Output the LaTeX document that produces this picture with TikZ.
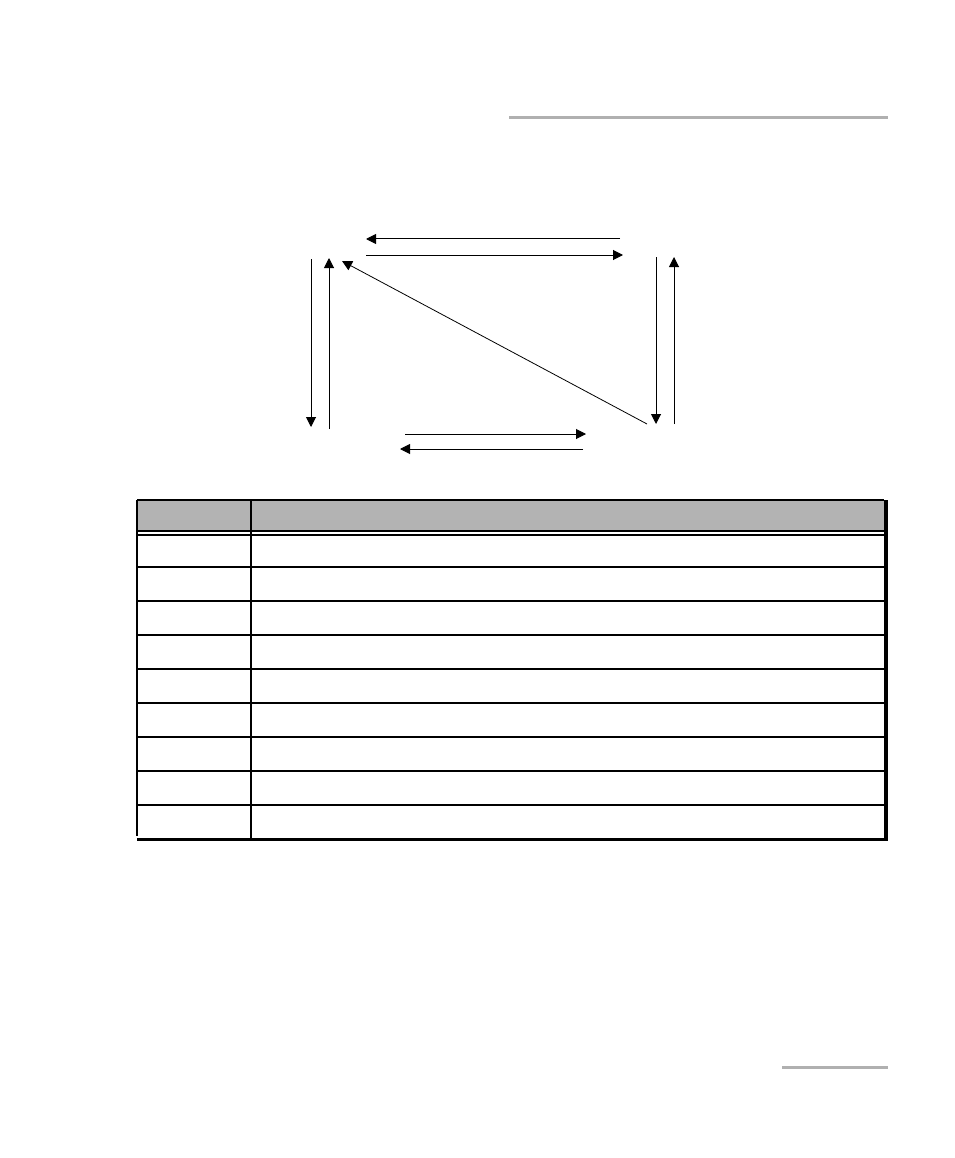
\documentclass[tikz,border=0pt]{standalone}
\usetikzlibrary{arrows.meta}
\definecolor{rulegray}{HTML}{B0B0B0}
\definecolor{headgray}{HTML}{B3B3B3}
\tikzset{
  flow/.style={line width=1pt,-{Triangle[length=10pt,width=10pt]}},
  grid/.style={line width=1.2pt},
}
\begin{document}
\begin{tikzpicture}[x=1pt,y=-1pt]
\useasboundingbox (0,0) rectangle (954,1158);
% header rules
\fill[rulegray] (509,116) rectangle (888,119.5);
\fill[rulegray] (782,1065.5) rectangle (888,1069);
% arrow end points
\coordinate (tA) at (620,239); \coordinate (tB) at (366,239);
\coordinate (tC) at (366,255); \coordinate (tD) at (623,255);
\coordinate (lA) at (311,259); \coordinate (lB) at (311,427);
\coordinate (lC) at (329,429); \coordinate (lD) at (329,258);
\coordinate (dA) at (647,424); \coordinate (dB) at (342,261);
\coordinate (rA) at (656,257); \coordinate (rB) at (656,424);
\coordinate (rC) at (674,424); \coordinate (rD) at (674,257);
\coordinate (bA) at (405,434); \coordinate (bB) at (586,434);
\coordinate (bC) at (583,449); \coordinate (bD) at (400,449);
\draw[flow] (tA) -- (tB);
\draw[flow] (tC) -- (tD);
\draw[flow] (lA) -- (lB);
\draw[flow] (lC) -- (lD);
\draw[flow,line width=0.8pt] (dA) -- (dB);
\draw[flow] (rA) -- (rB);
\draw[flow] (rC) -- (rD);
\draw[flow] (bA) -- (bB);
\draw[flow] (bC) -- (bD);
% table
\fill[headgray] (137,500) rectangle (884,531);
\draw[grid] (137,500) -- (884,500);
\draw[grid] (137,531) -- (884,531);
\foreach \y in {535,567,601,635,669,703,737,771,805}
  \draw[grid] (137,\y) -- (884,\y);
\draw[grid] (137,500) -- (137,836);
\draw[grid] (251,500) -- (251,839);
\fill[black] (884,500) rectangle (888,841);
\fill[black] (137,837.5) rectangle (888,841);
\end{tikzpicture}
\end{document}
